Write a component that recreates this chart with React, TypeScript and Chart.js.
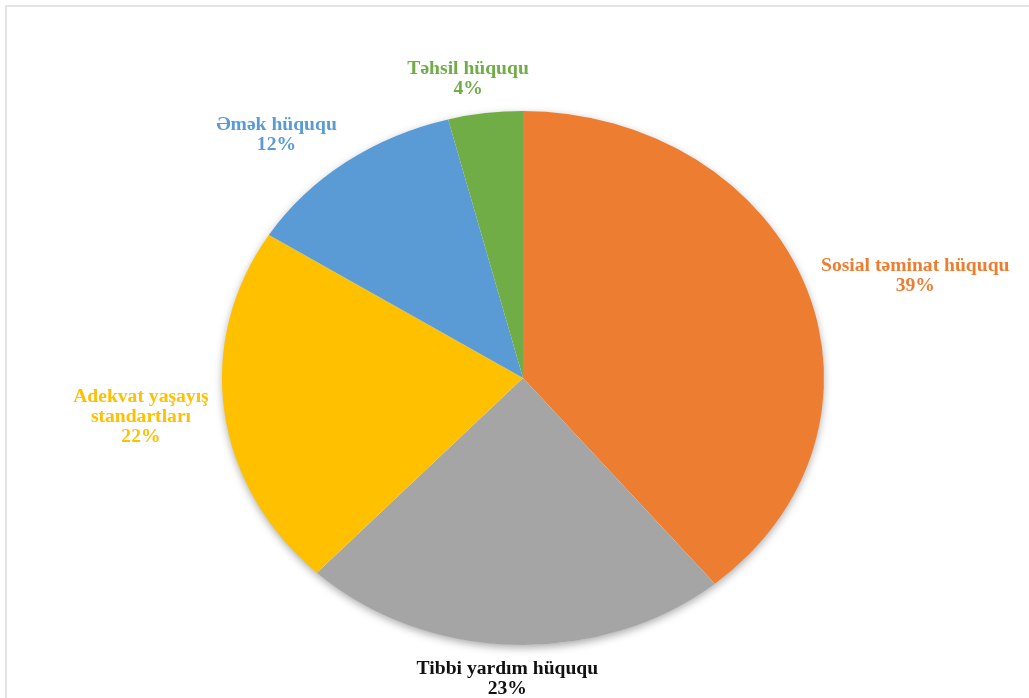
import { useEffect, useRef } from 'react';
import { Chart, registerables } from 'chart.js';

Chart.register(...registerables);

const categories = ['Sosial təminat hüququ', 'Tibbi yardım hüququ', 'Adekvat yaşayış\nstandartları', 'Əmək hüququ', 'Təhsil hüququ'];
const values = [39, 23, 22, 12, 4];
const percentLabels = ['39%', '23%', '22%', '12%', '4%'];
const sliceColors = ['#ED7D31', '#A5A5A5', '#FFC000', '#5B9BD5', '#70AD47'];
const labelColors = ['#ED7D31', '#111111', '#FFC000', '#5B9BD5', '#70AD47'];

const SX = 301 / 267;
const FONT = 'bold 19.6px "Liberation Serif", "Times New Roman", "DejaVu Serif", serif';
const LINE_H = 20;
const GAP = 14;

const ellipsePlugin = {
  id: 'ellipsePie',
  beforeDatasetsDraw(chart: any) {
    const el = chart.getDatasetMeta(0).data[0];
    if (!el) return;
    const { x, y, outerRadius } = el.getProps(['x', 'y', 'outerRadius'], true);
    const ctx = chart.ctx;
    ctx.save();
    ctx.translate(x, y);
    ctx.scale(SX, 1);
    ctx.translate(-x, -y);
    ctx.save();
    ctx.shadowColor = 'rgba(0,0,0,0.35)';
    ctx.shadowBlur = 8;
    ctx.shadowOffsetY = 3;
    ctx.beginPath();
    ctx.arc(x, y, outerRadius - 0.5, 0, Math.PI * 2);
    ctx.fillStyle = '#ffffff';
    ctx.fill();
    ctx.restore();
  },
  afterDatasetsDraw(chart: any) {
    chart.ctx.restore();
  },
  afterDraw(chart: any) {
    const ctx = chart.ctx;
    const meta = chart.getDatasetMeta(0);
    ctx.save();
    ctx.font = FONT;
    ctx.textAlign = 'center';
    ctx.textBaseline = 'middle';
    meta.data.forEach((el: any, i: number) => {
      const { x, y, startAngle, endAngle, outerRadius } = el.getProps(['x', 'y', 'startAngle', 'endAngle', 'outerRadius'], true);
      const mid = (startAngle + endAngle) / 2;
      const dx = Math.cos(mid);
      const dy = Math.sin(mid);
      const lines = [...String(chart.data.labels[i]).split('\n'), percentLabels[i]];
      const w = Math.max(...lines.map((l: string) => ctx.measureText(l).width));
      const h = lines.length * LINE_H;
      const px = x + dx * (outerRadius + GAP) * SX;
      const py = y + dy * (outerRadius + GAP);
      const cx = px + Math.sign(dx) * Math.min(1, 2 * Math.abs(dx)) * w / 2;
      const cy = py + dy * h / 2;
      ctx.fillStyle = labelColors[i];
      lines.forEach((l: string, j: number) => {
        ctx.fillText(l, cx, cy - h / 2 + LINE_H / 2 + j * LINE_H);
      });
    });
    ctx.restore();
  },
};

export default function App() {
  const ref = useRef<HTMLCanvasElement>(null);
  useEffect(() => {
    document.body.style.margin = '0';
    if (!ref.current) return;
    const chart = new Chart(ref.current, {
      type: 'pie',
      data: {
        labels: categories,
        datasets: [
          {
            data: values,
            backgroundColor: sliceColors,
            borderWidth: 0,
            clip: false as any,
          },
        ],
      },
      options: {
        animation: false,
        responsive: true,
        maintainAspectRatio: false,
        layout: { padding: { top: 111, bottom: 53, left: 223, right: 206 } },
        plugins: {
          legend: { display: false },
          tooltip: { enabled: false },
        },
      },
      plugins: [ellipsePlugin],
    });
    return () => chart.destroy();
  }, []);
  return (
    <div style={{ position: 'fixed', left: 0, top: 0, width: 1029, height: 698, overflow: 'hidden', background: '#fff' }}>
      <div style={{ position: 'absolute', left: 5, top: 5, width: 1100, height: 800, border: '2px solid #e4e4e4' }} />
      <div style={{ position: 'absolute', left: 0, top: 0, width: 1029, height: 698 }}>
        <canvas ref={ref} />
      </div>
    </div>
  );
}
